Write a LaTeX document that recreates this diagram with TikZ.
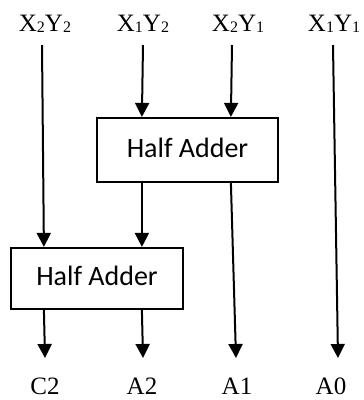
\documentclass[tikz,border=0pt]{standalone}
\usepackage{fontspec}
\setmainfont{Liberation Serif}
\newfontfamily\carlitofont{Carlito}
\usetikzlibrary{arrows.meta}
\newcommand\subdig[1]{\raisebox{-1.5pt}{\fontsize{16}{16}\selectfont #1}}
\tikzset{
  lbl/.style={anchor=base, inner sep=0pt, font=\fontsize{25}{28}\selectfont},
  habox/.style={draw, line width=2.2pt, inner sep=0pt, text depth=5pt,
    font=\carlitofont\fontsize{28}{30}\selectfont},
  arr/.style={line width=2pt, -{Triangle[width=14pt,length=14pt]}}
}
\begin{document}
\begin{tikzpicture}[x=1pt,y=-1pt]
\useasboundingbox (0,0) rectangle (364,400);
% top labels
\node[lbl] (x2y2) at (45,31) {X\subdig{2}Y\subdig{2}};
\node[lbl] (x1y2) at (143,31) {X\subdig{1}Y\subdig{2}};
\node[lbl] (x2y1) at (238,31) {X\subdig{2}Y\subdig{1}};
\node[lbl] (x1y1) at (334,31) {X\subdig{1}Y\subdig{1}};
% bottom labels
\node[lbl] (c2) at (45,394.5) {C2};
\node[lbl] (a2) at (142,394.5) {A2};
\node[lbl] (a1) at (237,394.5) {A1};
\node[lbl] (a0) at (331,394.5) {A0};
% boxes
\node[habox, minimum width=181pt, minimum height=64pt] (ha1) at (187.5,150) {Half Adder};
\node[habox, minimum width=172pt, minimum height=61pt] (ha2) at (97,278.5) {Half Adder};
% line start/end coordinates
\coordinate (s1) at (42,45);
\coordinate (s2) at (143,45);
\coordinate (s3) at (232,45);
\coordinate (s4) at (333,45);
\coordinate (e1) at (45,358);
\coordinate (e2) at (143,358);
\coordinate (e3) at (236,358);
\coordinate (e4) at (338,358);
% connectors
\draw[arr] (s1) -- ([xshift=34pt]ha2.north west);
\draw[arr] (s2) -- ([xshift=46pt]ha1.north west);
\draw[arr] (s3) -- ([xshift=135pt]ha1.north west);
\draw[arr] (s4) -- (e4);
\draw[arr] ([xshift=46pt]ha1.south west) -- ([xshift=132pt]ha2.north west);
\draw[arr] ([xshift=135pt]ha1.south west) -- (e3);
\draw[arr] ([xshift=34pt]ha2.south west) -- (e1);
\draw[arr] ([xshift=132pt]ha2.south west) -- (e2);
\end{tikzpicture}
\end{document}
